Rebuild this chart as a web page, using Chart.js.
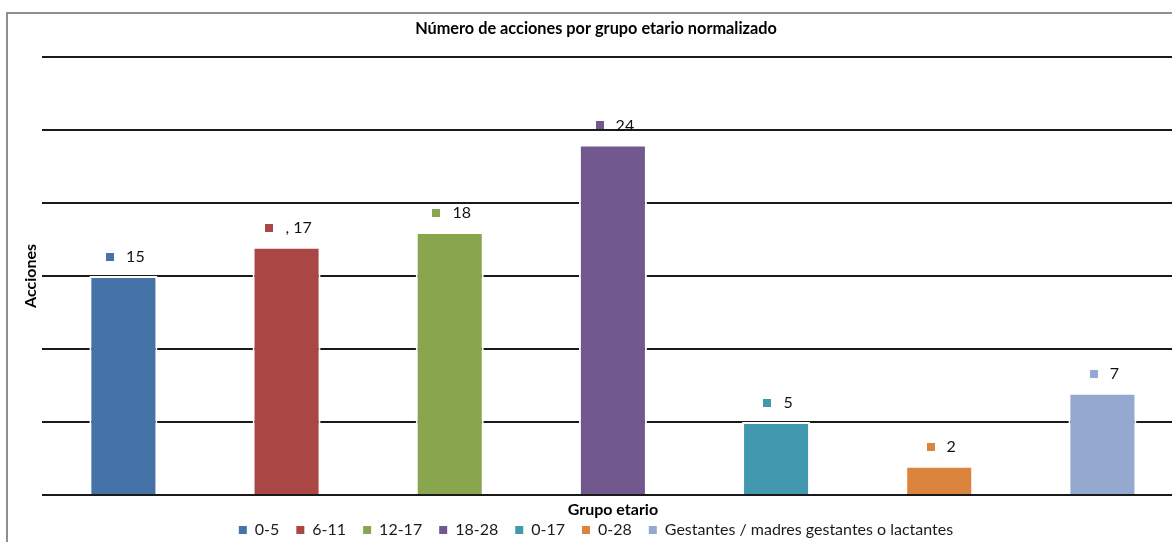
<!DOCTYPE html>
<html><head><meta charset="utf-8">
<script src="https://cdn.jsdelivr.net/npm/chart.js@4/dist/chart.umd.min.js"></script>
<style>
html,body{margin:0;padding:0;background:#fff;overflow:hidden;width:1172px;height:542px;}
#frame{position:absolute;left:6px;top:12px;width:1200px;height:560px;border-left:2px solid #8f8f8f;border-top:2px solid #8f8f8f;}
#c{position:absolute;left:0;top:0;}
</style></head><body>
<div id="frame"><canvas id="c" width="1178" height="534"></canvas></div>
<script>
const categories = ['0-5','6-11','12-17','18-28','0-17','0-28','Gestantes / madres gestantes o lactantes'];
const values = [15, 17, 18, 24, 5, 2, 7];
const labelText = ['15', ', 17', '18', '24', '5', '2', '7'];
const colors = ['#4572A7','#AA4643','#89A54E','#71588F','#4198AF','#DB843D','#93A9CF'];
const yTicks = [0, 5, 10, 15, 20, 25, 30];
const titleText = 'Número de acciones por grupo etario normalizado';
const xTitle = 'Grupo etario';
const yTitle = 'Acciones';

const FONT = 'Lato';

const datasets = categories.map((name, i) => ({
  label: name,
  data: categories.map((_, j) => j === i ? values[i] : null),
  backgroundColor: colors[i],
  borderColor: '#ffffff',
  borderWidth: 2,
  skipNull: true,
  categoryPercentage: 0.417,
  barPercentage: 1
}));

const valueLabels = {
  id: 'valueLabels',
  afterDatasetsDraw(chart) {
    const ctx = chart.ctx;
    ctx.save();
    ctx.font = '16px ' + FONT;
    ctx.textBaseline = 'middle';
    ctx.textAlign = 'left';
    chart.data.datasets.forEach((ds, i) => {
      const meta = chart.getDatasetMeta(i);
      ds.data.forEach((v, j) => {
        if (v === null) return;
        const el = meta.data[j];
        const txt = labelText[i];
        const tw = ctx.measureText(txt).width;
        const total = 8 + 12 + tw;
        const sx = el.x - total / 2 + 2;
        const cy = el.y - 19;
        ctx.fillStyle = colors[i];
        ctx.fillRect(Math.round(sx), Math.round(cy - 4), 8, 8);
        ctx.fillStyle = '#111';
        ctx.fillText(txt, sx + 20, cy);
      });
    });
    ctx.restore();
  }
};

new Chart(document.getElementById('c'), {
  type: 'bar',
  data: { labels: categories, datasets },
  options: {
    responsive: false,
    animation: false,
    devicePixelRatio: 1,
    layout: { padding: { left: 0, top: 0, right: 2, bottom: 0 } },
    plugins: {
      title: {
        display: true, text: titleText, color: '#000',
        font: { family: FONT, size: 16.3, weight: 'bold' },
        padding: { top: 5.2, bottom: 18 }
      },
      legend: {
        display: true, position: 'bottom',
        labels: {
          boxWidth: 8, boxHeight: 8, padding: 17, color: '#1a1a1a',
          font: { family: FONT, size: 16 },
          generateLabels(chart) {
            return Chart.defaults.plugins.legend.labels.generateLabels(chart)
              .map(l => Object.assign(l, { lineWidth: 0, strokeStyle: 'rgba(0,0,0,0)' }));
          }
        }
      },
      tooltip: { enabled: false }
    },
    scales: {
      x: {
        grid: { display: false, drawTicks: false },
        border: { display: false },
        ticks: { display: false },
        title: {
          display: true, text: xTitle, color: '#000',
          font: { family: FONT, size: 16, weight: 'bold' },
          padding: { top: 5.4, bottom: -14.6 }
        }
      },
      y: {
        min: 0, max: 30,
        afterBuildTicks(scale) { scale.ticks = yTicks.map(v => ({ value: v })); },
        grid: { color: '#1a1a1a', lineWidth: 2, drawTicks: false },
        border: { display: false },
        ticks: { display: false },
        title: {
          display: true, text: yTitle, color: '#000',
          font: { family: FONT, size: 16, weight: 'bold' },
          padding: { top: 12.8, bottom: 1.8 }
        }
      }
    }
  },
  plugins: [valueLabels]
});
</script>
</body></html>
